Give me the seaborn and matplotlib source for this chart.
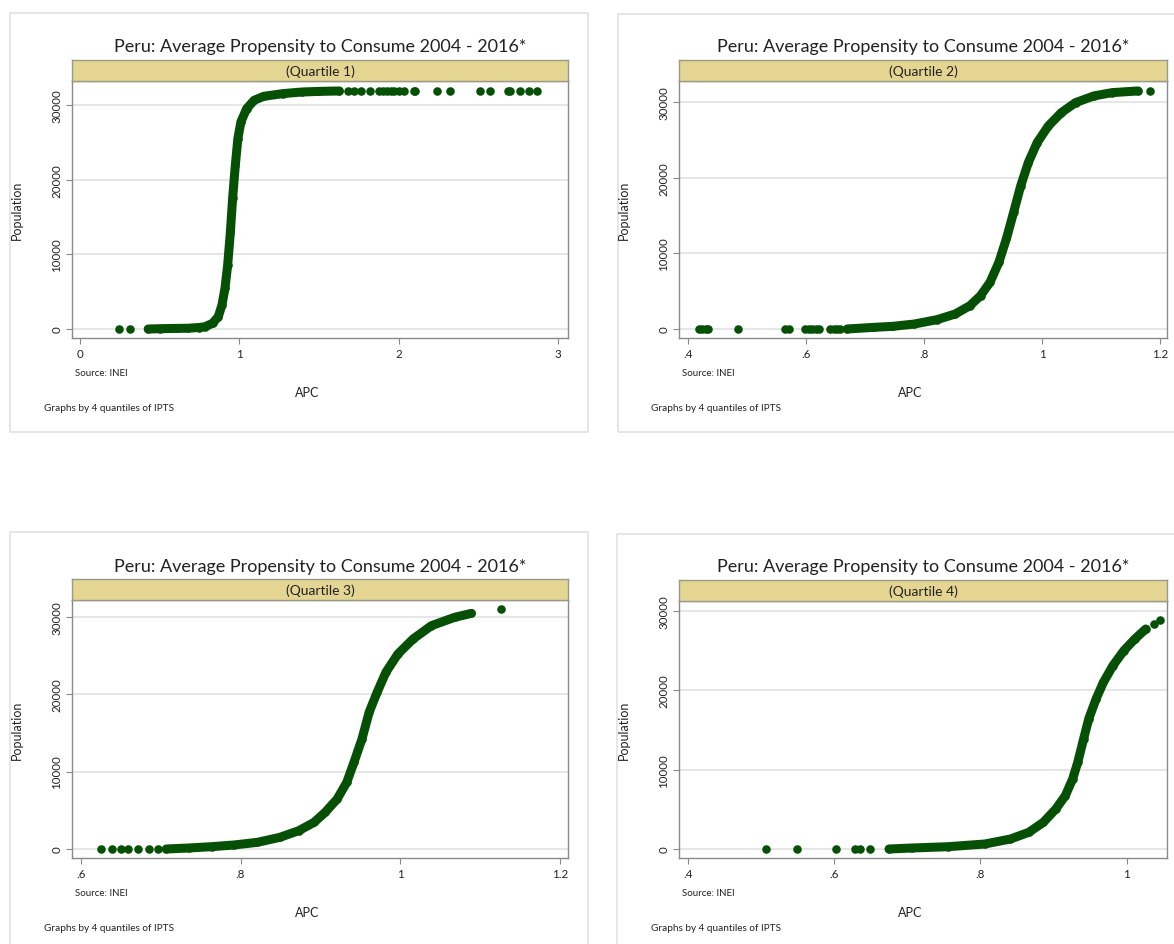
import matplotlib
matplotlib.use("Agg")
import matplotlib.pyplot as plt
import matplotlib.patches as patches
import pandas as pd
import seaborn as sns

# APC (sorted) vs population rank
q1_apc = [0.428, 0.50, 0.60, 0.677, 0.745, 0.784, 0.832, 0.868, 0.891, 0.910, 0.927, 0.944,
          0.958, 0.975, 0.991, 1.010, 1.046, 1.093, 1.153, 1.272, 1.391, 1.50, 1.628]
q1_pop = [0, 40, 80, 100, 200, 300, 760, 1650, 3200, 5440, 8560, 13000,
          17480, 21930, 25500, 27730, 29510, 30630, 31160, 31520, 31740, 31820, 31880]
q1_out_apc = [0.245, 0.316, 1.680, 1.723, 1.766, 1.818, 1.878, 1.90, 1.925, 1.95, 1.973, 2.00,
              2.032, 2.099, 2.105, 2.239, 2.322, 2.508, 2.572, 2.686, 2.697, 2.764, 2.817, 2.869]
q1_out_pop = [0, 0, 31890, 31890, 31890, 31900, 31900, 31900, 31900, 31900, 31900, 31900,
              31910, 31910, 31910, 31910, 31920, 31920, 31920, 31930, 31930, 31930, 31940, 31940]

q2_apc = [0.670, 0.716, 0.747, 0.784, 0.822, 0.853, 0.878, 0.896, 0.912, 0.927, 0.940, 0.952,
          0.964, 0.977, 0.992, 1.011, 1.033, 1.057, 1.088, 1.119, 1.163]
q2_pop = [0, 220, 350, 660, 1230, 1980, 3080, 4400, 6160, 8800, 11970, 15400,
          18900, 22000, 24640, 26840, 28600, 29920, 30800, 31240, 31460]
q2_out_apc = [0.419, 0.424, 0.430, 0.434, 0.485, 0.564, 0.572, 0.598, 0.605, 0.611, 0.618,
              0.623, 0.641, 0.647, 0.652, 0.657, 1.184]
q2_out_pop = [0, 0, 0, 0, 0, 0, 0, 0, 0, 0, 0, 0, 0, 0, 0, 0, 31500]

q3_apc = [0.707, 0.735, 0.764, 0.792, 0.821, 0.849, 0.873, 0.892, 0.906, 0.921, 0.933, 0.942,
          0.952, 0.961, 0.971, 0.982, 0.997, 1.016, 1.039, 1.068, 1.089]
q3_pop = [0, 130, 300, 520, 860, 1500, 2370, 3440, 4740, 6460, 8610, 11190,
          14200, 17650, 20230, 22820, 25180, 27120, 28840, 29920, 30430]
q3_out_apc = [0.625, 0.639, 0.650, 0.659, 0.672, 0.686, 0.697, 1.126]
q3_out_pop = [0, 0, 0, 0, 0, 0, 0, 30990]

q4_apc = [0.675, 0.706, 0.756, 0.806, 0.841, 0.866, 0.886, 0.903, 0.916, 0.926, 0.933, 0.941,
          0.948, 0.958, 0.968, 0.981, 0.996, 1.011, 1.026]
q4_pop = [0, 125, 290, 630, 1260, 2100, 3360, 5040, 6720, 8820, 10920, 13870,
          16390, 18900, 21000, 23100, 25000, 26470, 27730]
q4_out_apc = [0.507, 0.549, 0.602, 0.629, 0.636, 0.649, 1.037, 1.046]
q4_out_pop = [0, 0, 0, 0, 0, 0, 28360, 28900]

strip_labels = ["(Quartile 1)", "(Quartile 2)", "(Quartile 3)", "(Quartile 4)"]
x_ticks = [[0, 1, 2, 3], [0.4, 0.6, 0.8, 1.0, 1.2], [0.6, 0.8, 1.0, 1.2], [0.4, 0.6, 0.8, 1.0]]
x_tick_labels = [["0", "1", "2", "3"], [".4", ".6", ".8", "1", "1.2"],
                 [".6", ".8", "1", "1.2"], [".4", ".6", ".8", "1"]]
y_ticks = [0, 10000, 20000, 30000]
y_tick_labels = ["0", "10000", "20000", "30000"]
title = "Peru: Average Propensity to Consume 2004 - 2016*"

W, H = 1174, 945
GREEN = "#065006"
STRIP = "#e4d592"

sns.set_theme(style="white")
plt.rcParams["font.family"] = ["Lato", "DejaVu Sans"]

fig = plt.figure(figsize=(W / 100, H / 100), dpi=100)


def rect(x0, y0, x1, y1):
    return [x0 / W, 1 - y1 / H, (x1 - x0) / W, (y1 - y0) / H]


def px(x, y):
    return x / W, 1 - y / H


# panel layout in pixels: frame, plot box, strip top, xlim, ylim, text anchors
panels = [
    dict(frame=(10, 14, 588, 433), plot=(72, 82, 568, 339), strip=61,
         xlim=(-0.05, 3.063), ylim=(-1205, 33214), dx=0, dy=0, xl=307),
    dict(frame=(618, 15, 1190, 433), plot=(679, 82, 1167, 339), strip=61,
         xlim=(0.385, 1.212), ylim=(-1190, 32775), dx=607, dy=0, xl=910),
    dict(frame=(10, 533, 588, 960), plot=(72, 601, 568, 859), strip=580,
         xlim=(0.589, 1.210), ylim=(-1162, 32157), dx=0, dy=520, xl=307),
    dict(frame=(617, 535, 1190, 960), plot=(679, 602, 1167, 859), strip=581,
         xlim=(0.388, 1.055), ylim=(-1134, 31260), dx=607, dy=520, xl=910),
]
curves = [(q1_apc, q1_pop, q1_out_apc, q1_out_pop),
          (q2_apc, q2_pop, q2_out_apc, q2_out_pop),
          (q3_apc, q3_pop, q3_out_apc, q3_out_pop),
          (q4_apc, q4_pop, q4_out_apc, q4_out_pop)]

for i, p in enumerate(panels):
    fx0, fy0, fx1, fy1 = p["frame"]
    fig.patches.append(patches.Rectangle(px(fx0, fy1), (fx1 - fx0) / W, (fy1 - fy0) / H,
                                         transform=fig.transFigure, fill=False,
                                         edgecolor="#e2e2e2", linewidth=1.2))
    x0, y0, x1, y1 = p["plot"]
    ax = fig.add_axes(rect(x0, y0, x1, y1))
    apc, pop, out_apc, out_pop = curves[i]
    dense = pd.DataFrame({"APC": apc, "Population": pop})
    sparse = pd.DataFrame({"APC": out_apc, "Population": out_pop})
    for g in y_ticks:
        ax.axhline(g, color="#e6e6e6", linewidth=1.4, zorder=0)
    line = sns.lineplot(data=dense, x="APC", y="Population", ax=ax, color=GREEN,
                        linewidth=6.5, sort=False, zorder=3)
    line.lines[-1].set_solid_capstyle("round")
    line.lines[-1].set_solid_joinstyle("round")
    sns.scatterplot(data=dense, x="APC", y="Population", ax=ax, color=GREEN,
                    s=38, linewidth=0, zorder=4)
    sns.scatterplot(data=sparse, x="APC", y="Population", ax=ax, color=GREEN,
                    s=38, linewidth=0, zorder=4)
    ax.set_xlim(*p["xlim"])
    ax.set_ylim(*p["ylim"])
    ax.set_xticks(x_ticks[i])
    ax.set_xticklabels(x_tick_labels[i])
    ax.set_yticks(y_ticks)
    ax.set_yticklabels(y_tick_labels, rotation=90, va="center")
    ax.tick_params(axis="both", length=4, width=0.8, color="#888888",
                   labelsize=8.3, labelcolor="#222222", pad=3, bottom=True, left=True)
    ax.set_xlabel("")
    ax.set_ylabel("")
    for s in ax.spines.values():
        s.set_color("#8a8a8a")
        s.set_linewidth(1.0)

    # strip header
    sax = fig.add_axes(rect(x0, p["strip"], x1, y0))
    sax.set_facecolor(STRIP)
    sax.set_xticks([])
    sax.set_yticks([])
    for s in sax.spines.values():
        s.set_color("#9a9a8a")
        s.set_linewidth(1.0)
    sax.text(0.5, 0.5, strip_labels[i], ha="center", va="center", fontsize=10,
             color="#222222", transform=sax.transAxes)

    dx, dy = p["dx"], p["dy"]
    fig.text(*px((x0 + x1) / 2, 47 + dy), title, ha="center", va="center",
             fontsize=13, color="#222222")
    fig.text(*px(p["xl"], 393 + dy), "APC", ha="center", va="center", fontsize=9,
             color="#222222")
    fig.text(*px(75 + dx, 374 + dy), "Source: INEI", ha="left", va="center",
             fontsize=7, color="#222222")
    fig.text(*px(44 + dx, 409 + dy), "Graphs by 4 quantiles of IPTS", ha="left",
             va="center", fontsize=7.2, color="#222222")
    fig.text(*px(17 + dx, (y0 + y1) / 2), "Population", ha="center", va="center",
             rotation=90, fontsize=9, color="#222222")

fig.savefig("out.png", dpi=100)
